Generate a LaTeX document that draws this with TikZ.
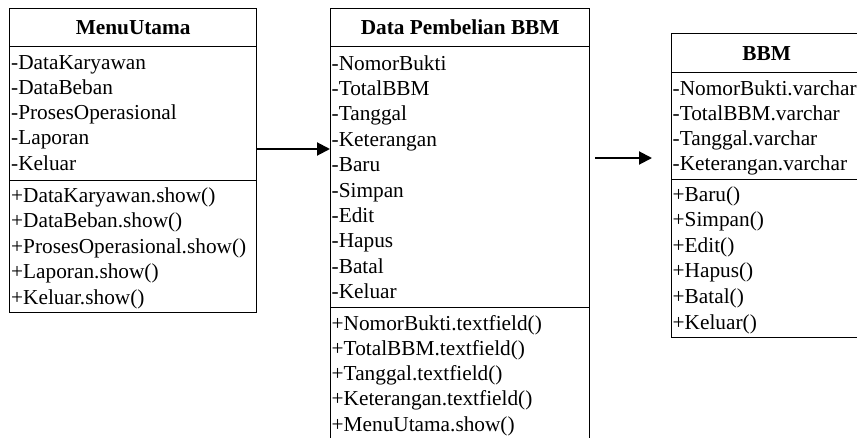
\documentclass[tikz,border=0pt]{standalone}
\usepackage{fontspec}
\setmainfont{Liberation Serif}
\usetikzlibrary{arrows.meta,calc}
\begin{document}
\begin{tikzpicture}[x=1pt,y=-1pt,
  compartment/.style={draw,line width=1.3pt,inner sep=0pt,anchor=north west,
    font=\fontsize{21.3}{25}\selectfont\bfseries},
  member/.style={font=\fontsize{21.3}{25}\selectfont,inner sep=0pt,anchor=base west},
  flow/.style={line width=2pt,-{Triangle[length=13pt,width=13pt]}}]
\useasboundingbox[fill=white] (0,0) rectangle (857,437);

% class MenuUtama
\node[compartment,minimum width=247pt,minimum height=38pt]  (mu-head) at (9,8)   {MenuUtama};
\node[compartment,minimum width=247pt,minimum height=134pt] (mu-attr) at (9,46)  {};
\node[compartment,minimum width=247pt,minimum height=132pt] (mu-ops)  at (9,180) {};
\foreach \t [count=\i from 0] in {-DataKaryawan,-DataBeban,-ProsesOperasional,-Laporan,-Keluar}
  \node[member] (mu-a\i) at ($(mu-attr.north west)+(2,23+25.3*\i)$) {\t};
\foreach \t [count=\i from 0] in {+DataKaryawan.show(),+DataBeban.show(),+ProsesOperasional.show(),+Laporan.show(),+Keluar.show()}
  \node[member] (mu-o\i) at ($(mu-ops.north west)+(2,22+25.5*\i)$) {\t};

% class Data Pembelian BBM
\node[compartment,minimum width=259pt,minimum height=38pt]  (dp-head) at (330,8)   {Data Pembelian BBM};
\node[compartment,minimum width=259pt,minimum height=261pt] (dp-attr) at (330,46)  {};
\node[compartment,minimum width=259pt,minimum height=135pt] (dp-ops)  at (330,307) {};
\foreach \t [count=\i from 0] in {-NomorBukti,-TotalBBM,-Tanggal,-Keterangan,-Baru,-Simpan,-Edit,-Hapus,-Batal,-Keluar}
  \node[member] (dp-a\i) at ($(dp-attr.north west)+(1.5,24+25.4*\i)$) {\t};
\foreach \t [count=\i from 0] in {+NomorBukti.textfield(),+TotalBBM.textfield(),+Tanggal.textfield(),+Keterangan.textfield(),+MenuUtama.show()}
  \node[member] (dp-o\i) at ($(dp-ops.north west)+(1.5,23+25.3*\i)$) {\t};

% class BBM
\node[compartment,minimum width=190pt,minimum height=39pt]  (bb-head) at (671,33)  {BBM};
\node[compartment,minimum width=190pt,minimum height=107pt] (bb-attr) at (671,72)  {};
\node[compartment,minimum width=190pt,minimum height=158pt] (bb-ops)  at (671,179) {};
\foreach \t [count=\i from 0] in {-NomorBukti.varchar,-TotalBBM.varchar,-Tanggal.varchar,-Keterangan.varchar}
  \node[member] (bb-a\i) at ($(bb-attr.north west)+(1.5,23+25*\i)$) {\t};
\foreach \t [count=\i from 0] in {+Baru(),+Simpan(),+Edit(),+Hapus(),+Batal(),+Keluar()}
  \node[member] (bb-o\i) at ($(bb-ops.north west)+(1.5,22+25.6*\i)$) {\t};

% connectors
\coordinate (lvl1) at (0,149);
\draw[flow] (mu-attr.east |- lvl1) -- (dp-attr.west |- lvl1);
\coordinate (f2start) at (595,158);
\coordinate (f2end) at (652,158);
\draw[flow] (f2start) -- (f2end);
\end{tikzpicture}
\end{document}
